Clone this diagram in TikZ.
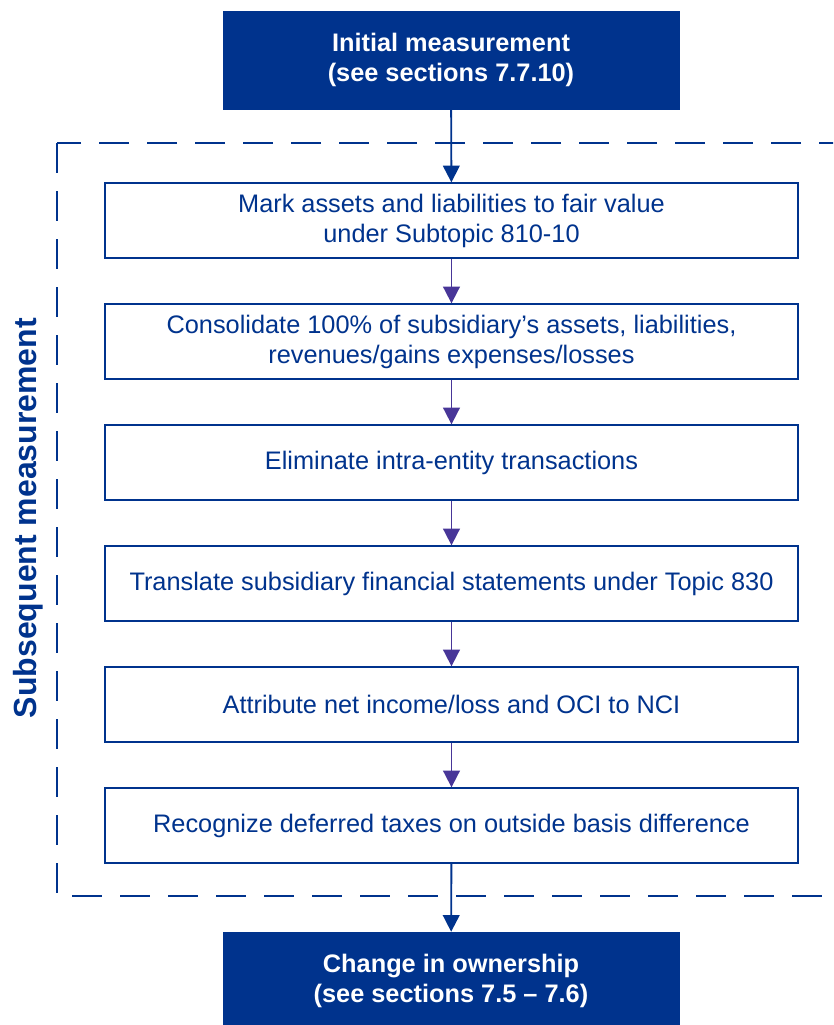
\documentclass[tikz,border=0pt]{standalone}
\usepackage{fontspec}
\setmainfont{Liberation Sans}
\usepackage{tikz}
\usetikzlibrary{arrows.meta,positioning}
\definecolor{kblue}{HTML}{00338D}
\definecolor{kpurple}{HTML}{483698}

\begin{document}
\begin{tikzpicture}[x=0.75pt, y=-0.75pt, font=\fontsize{19}{22.5}\selectfont,
	>={Triangle[width=12.5pt,length=12.5pt]},
	darkbox/.style={fill=kblue, draw=kblue, text=white, font=\fontsize{19}{22.5}\selectfont\bfseries,
		minimum width=342pt, minimum height=73.5pt, align=center, inner sep=0pt},
	stepbox/.style={draw=kblue, line width=1pt, text=kblue, fill=white,
		minimum width=519.75pt, minimum height=56.25pt, align=center, inner sep=0pt},
	flow/.style={->, line width=1.4pt}]

\useasboundingbox (0,0) rectangle (833,1025);
\clip (0,0) rectangle (833,1025);

% ---- frame of the subsequent measurement ----
\draw[kblue, line width=1.6pt, dash pattern=on 22.5pt off 13.5pt] (57,143) rectangle (900,896);
\node[text=kblue, font=\fontsize{24}{28}\selectfont\bfseries, rotate=90] (sublabel) at (28,518) {Subsequent measurement};

% ---- boxes ----
\node[darkbox] (initial) at (451,60) {Initial measurement\\(see sections 7.7.10)};
\foreach \i/\txt in {1/{Mark assets and liabilities to fair value\\under Subtopic 810-10},
	2/{Consolidate 100\% of subsidiary’s assets, liabilities,\\revenues/gains expenses/losses},
	3/{Eliminate intra-entity transactions},
	4/{Translate subsidiary financial statements under Topic 830},
	5/{Attribute net income/loss and OCI to NCI},
	6/{Recognize deferred taxes on outside basis difference}}
	\node[stepbox] (s\i) at (451.5,{220.5+121*(\i-1)}) {\txt};
\node[darkbox] (change) at (451,981) {Change in ownership\\(see sections 7.5 -- 7.6)};

% ---- arrows ----
\draw[flow, kblue] (initial) -- (s1);
\foreach \i [evaluate=\i as \j using int(\i+1)] in {1,...,5}
	\draw[flow, kpurple] (s\i) -- (s\j);
\draw[flow, kblue] (s6) -- (change);
\end{tikzpicture}
\end{document}
